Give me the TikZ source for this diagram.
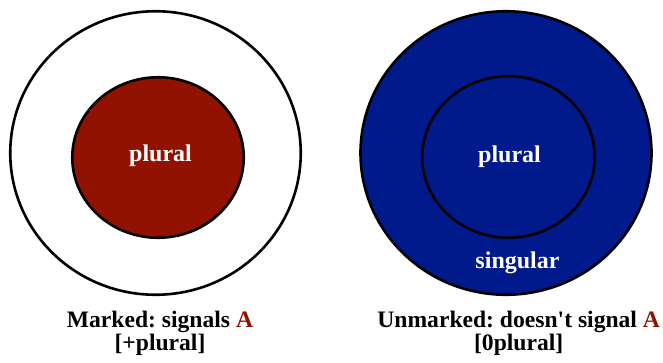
\documentclass[tikz,border=0pt]{standalone}
\usepackage{fontspec}
\setmainfont{Liberation Serif}[Ligatures=TeXOff]
\frenchspacing
\usetikzlibrary{shapes.geometric}
\definecolor{darkred}{RGB}{145,18,0}
\definecolor{darkblue}{RGB}{0,26,140}
\begin{document}
\begin{tikzpicture}[x=1pt,y=-1pt,
  ring/.style={draw=black,line width=2.6pt,ellipse,inner sep=0pt,outer sep=0pt},
  inlabel/.style={text=white,font=\fontsize{24}{28}\selectfont\bfseries,anchor=base,inner sep=0pt},
  caption/.style={text=black,font=\fontsize{23.6}{21}\selectfont\bfseries\frenchspacing,align=center,anchor=base,inner sep=0pt}]
\useasboundingbox (0,0) rectangle (663,362);
% left
\node[ring,fill=white,minimum width=290.5pt,minimum height=283.5pt] (lout) at (155.5,153) {};
\node[ring,fill=darkred,minimum width=171.5pt,minimum height=160.5pt] (lin) at (158,157.5) {};
\node[inlabel] (lpl) at (160.5,161) {plural};
% right
\node[ring,fill=darkblue,minimum width=291pt,minimum height=283.5pt] (rout) at (506,153) {};
\node[ring,fill=darkblue,minimum width=172.5pt,minimum height=161.5pt] (rin) at (508.5,157) {};
\node[inlabel] (rpl) at (509.5,162) {plural};
\node[inlabel] (rsg) at (517.5,268) {singular};
% captions
\node[caption] (lc) at (160,350) {Marked: signals \textcolor{darkred}{A}\\{}[+plural]};
\node[caption] (rc) at (518.7,350) {Unmarked: doesn't signal \textcolor{darkred}{A}\\{}[0plural]};
\end{tikzpicture}
\end{document}
